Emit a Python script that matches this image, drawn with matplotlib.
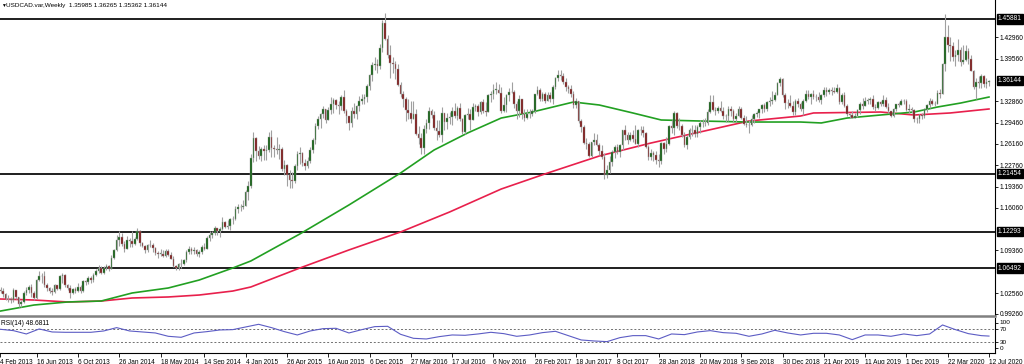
import numpy as np
import pandas as pd
import matplotlib
matplotlib.use("Agg")
import matplotlib.pyplot as plt
from matplotlib.transforms import blended_transform_factory

plt.rcParams['font.family'] = ['Liberation Sans', 'DejaVu Sans']

# USDCAD weekly bars, 10 Mar 2013 .. 12 Jul 2020
first_open = 1.0300
close_2013 = [1.0290, 1.0245, 1.0160, 1.0170, 1.0140, 1.0300, 1.0200, 1.0080, 1.0120, 1.0260,
              1.0300, 1.0350, 1.0250, 1.0180, 1.0470, 1.0520, 1.0530, 1.0390, 1.0340, 1.0290,
              1.0280, 1.0380, 1.0320, 1.0520, 1.0540, 1.0390, 1.0330, 1.0260, 1.0320, 1.0290,
              1.0350, 1.0290, 1.0440, 1.0430, 1.0490, 1.0470, 1.0550, 1.0610, 1.0660, 1.0580,
              1.0650, 1.0690, 1.0640]
high_2013 = [1.0350, 1.0340, 1.0260, 1.0230, 1.0190, 1.0340, 1.0300, 1.0200, 1.0140, 1.0290,
             1.0360, 1.0380, 1.0400, 1.0290, 1.0480, 1.0600, 1.0580, 1.0600, 1.0420, 1.0360,
             1.0330, 1.0400, 1.0390, 1.0550, 1.0580, 1.0560, 1.0400, 1.0380, 1.0340, 1.0360,
             1.0420, 1.0390, 1.0460, 1.0470, 1.0520, 1.0520, 1.0580, 1.0640, 1.0700, 1.0690,
             1.0680, 1.0720, 1.0700]
low_2013 = [1.0250, 1.0200, 1.0140, 1.0120, 1.0100, 1.0120, 1.0170, 1.0040, 1.0030, 1.0100,
            1.0230, 1.0260, 1.0200, 1.0140, 1.0160, 1.0450, 1.0420, 1.0350, 1.0290, 1.0250,
            1.0230, 1.0260, 1.0300, 1.0310, 1.0420, 1.0360, 1.0300, 1.0180, 1.0240, 1.0250,
            1.0280, 1.0260, 1.0280, 1.0380, 1.0400, 1.0410, 1.0430, 1.0520, 1.0580, 1.0560,
            1.0560, 1.0620, 1.0600]

close_2014 = [1.0810, 1.0940, 1.1100, 1.1140, 1.1040, 1.0960, 1.1090, 1.1080, 1.1040, 1.1110,
              1.1230, 1.1050, 1.1000, 1.0940, 1.1020, 1.1020, 1.0970, 1.0890, 1.0880, 1.0880,
              1.0840, 1.0920, 1.0860, 1.0800, 1.0690, 1.0650, 1.0720, 1.0720, 1.0780, 1.0900,
              1.0950, 1.0920, 1.0940, 1.0870, 1.0900, 1.0990, 1.0950, 1.1120, 1.1180, 1.1200,
              1.1280, 1.1230, 1.1270, 1.1380, 1.1300, 1.1320, 1.1430, 1.1420, 1.1590, 1.1610,
              1.1620, 1.1640]
high_2014 = [1.0860, 1.0960, 1.1170, 1.1230, 1.1200, 1.1080, 1.1160, 1.1120, 1.1230, 1.1150,
             1.1280, 1.1250, 1.1070, 1.1020, 1.1040, 1.1100, 1.1050, 1.0980, 1.0920, 1.0960,
             1.0930, 1.0960, 1.0960, 1.0900, 1.0850, 1.0700, 1.0730, 1.0800, 1.0800, 1.0930,
             1.1000, 1.0980, 1.0990, 1.0960, 1.0940, 1.1010, 1.1050, 1.1160, 1.1240, 1.1240,
             1.1320, 1.1290, 1.1300, 1.1460, 1.1400, 1.1410, 1.1440, 1.1470, 1.1640, 1.1670,
             1.1660, 1.1720]
low_2014 = [1.0630, 1.0800, 1.0920, 1.1000, 1.1000, 1.0900, 1.0950, 1.0980, 1.0990, 1.1010,
            1.1090, 1.1000, 1.0990, 1.0890, 1.0900, 1.0990, 1.0900, 1.0860, 1.0810, 1.0840,
            1.0820, 1.0830, 1.0840, 1.0790, 1.0670, 1.0620, 1.0620, 1.0660, 1.0700, 1.0740,
            1.0880, 1.0880, 1.0880, 1.0840, 1.0820, 1.0880, 1.0930, 1.0950, 1.1080, 1.1130,
            1.1170, 1.1180, 1.1140, 1.1260, 1.1280, 1.1270, 1.1250, 1.1350, 1.1410, 1.1520,
            1.1560, 1.1580]

close_2015 = [1.1850, 1.1950, 1.2390, 1.2700, 1.2500, 1.2430, 1.2530, 1.2500, 1.2520, 1.2720,
              1.2550, 1.2540, 1.2510, 1.2530, 1.2210, 1.2280, 1.2120, 1.2040, 1.2030, 1.2260,
              1.2460, 1.2470, 1.2310, 1.2270, 1.2340, 1.2510, 1.2680, 1.2900, 1.3010, 1.3080,
              1.3160, 1.2990, 1.3150, 1.3240, 1.3310, 1.3230, 1.3220, 1.3360, 1.3130, 1.3060,
              1.2950, 1.3140, 1.3080, 1.3210, 1.3300, 1.3330, 1.3360, 1.3530, 1.3710, 1.3860,
              1.3880, 1.3840]
high_2015 = [1.1890, 1.2020, 1.2450, 1.2800, 1.2730, 1.2580, 1.2560, 1.2600, 1.2590, 1.2800,
             1.2830, 1.2600, 1.2720, 1.2610, 1.2570, 1.2360, 1.2300, 1.2200, 1.2170, 1.2300,
             1.2500, 1.2560, 1.2480, 1.2380, 1.2400, 1.2560, 1.2700, 1.2950, 1.3050, 1.3100,
             1.3210, 1.3170, 1.3190, 1.3350, 1.3340, 1.3320, 1.3290, 1.3390, 1.3460, 1.3170,
             1.3060, 1.3190, 1.3260, 1.3230, 1.3370, 1.3400, 1.3410, 1.3560, 1.3720, 1.3910,
             1.3990, 1.3960]
low_2015 = [1.1640, 1.1730, 1.1920, 1.2330, 1.2350, 1.2370, 1.2350, 1.2360, 1.2360, 1.2480,
            1.2400, 1.2410, 1.2460, 1.2380, 1.2180, 1.2130, 1.1950, 1.1920, 1.1920, 1.1990,
            1.2200, 1.2300, 1.2270, 1.2200, 1.2230, 1.2320, 1.2470, 1.2620, 1.2850, 1.2870,
            1.3020, 1.2950, 1.2990, 1.3080, 1.3100, 1.3160, 1.3090, 1.3150, 1.3100, 1.2950,
            1.2830, 1.2880, 1.3030, 1.3000, 1.3140, 1.3240, 1.3250, 1.3270, 1.3460, 1.3610,
            1.3780, 1.3730]

close_2016 = [1.4130, 1.4520, 1.4270, 1.4020, 1.3900, 1.3880, 1.3800, 1.3540, 1.3400, 1.3330,
              1.3150, 1.3100, 1.3000, 1.3090, 1.2770, 1.2700, 1.2550, 1.2850, 1.2950, 1.3130,
              1.3070, 1.2860, 1.2820, 1.2750, 1.3100, 1.2960, 1.3030, 1.3040, 1.3130, 1.3060,
              1.3180, 1.3000, 1.2800, 1.3070, 1.3090, 1.2990, 1.3200, 1.3220, 1.3120, 1.3280,
              1.3140, 1.3120, 1.3390, 1.3410, 1.3470, 1.3470, 1.3420, 1.3130, 1.3230, 1.3380,
              1.3440, 1.3430]
high_2016 = [1.4190, 1.4570, 1.4690, 1.4330, 1.4170, 1.3990, 1.3920, 1.3880, 1.3590, 1.3450,
             1.3360, 1.3320, 1.3300, 1.3290, 1.3170, 1.2900, 1.2780, 1.2910, 1.3010, 1.3190,
             1.3170, 1.3140, 1.2990, 1.2990, 1.3190, 1.3110, 1.3100, 1.3120, 1.3190, 1.3260,
             1.3220, 1.3260, 1.3020, 1.3090, 1.3180, 1.3160, 1.3260, 1.3250, 1.3250, 1.3300,
             1.3330, 1.3280, 1.3400, 1.3450, 1.3560, 1.3590, 1.3560, 1.3510, 1.3350, 1.3400,
             1.3490, 1.3600]
low_2016 = [1.3800, 1.4060, 1.4250, 1.3970, 1.3660, 1.3740, 1.3640, 1.3530, 1.3350, 1.3190,
            1.2980, 1.3010, 1.2950, 1.3000, 1.2760, 1.2620, 1.2460, 1.2460, 1.2780, 1.2850,
            1.3030, 1.2840, 1.2680, 1.2720, 1.2650, 1.2830, 1.2850, 1.2930, 1.2910, 1.3030,
            1.2990, 1.2980, 1.2770, 1.2770, 1.3010, 1.2830, 1.2990, 1.3140, 1.3050, 1.3090,
            1.3100, 1.3060, 1.3120, 1.3280, 1.3330, 1.3400, 1.3420, 1.3110, 1.3120, 1.3120,
            1.3300, 1.3420]

close_2017 = [1.3250, 1.3130, 1.3320, 1.3090, 1.3030, 1.3080, 1.3090, 1.3130, 1.3400, 1.3460,
              1.3330, 1.3400, 1.3300, 1.3380, 1.3320, 1.3520, 1.3650, 1.3700, 1.3690, 1.3590,
              1.3510, 1.3480, 1.3400, 1.3230, 1.3290, 1.2970, 1.2880, 1.2630, 1.2610, 1.2420,
              1.2640, 1.2670, 1.2600, 1.2500, 1.2400, 1.2130, 1.2200, 1.2330, 1.2480, 1.2560,
              1.2480, 1.2590, 1.2830, 1.2760, 1.2670, 1.2760, 1.2690, 1.2620, 1.2830, 1.2830,
              1.2780, 1.2570, 1.2410]
high_2017 = [1.3460, 1.3290, 1.3390, 1.3320, 1.3170, 1.3170, 1.3160, 1.3160, 1.3410, 1.3530,
             1.3500, 1.3430, 1.3440, 1.3440, 1.3430, 1.3540, 1.3670, 1.3790, 1.3790, 1.3730,
             1.3650, 1.3550, 1.3540, 1.3450, 1.3340, 1.3300, 1.3010, 1.2910, 1.2710, 1.2650,
             1.2640, 1.2780, 1.2770, 1.2630, 1.2600, 1.2470, 1.2280, 1.2420, 1.2510, 1.2600,
             1.2610, 1.2620, 1.2840, 1.2920, 1.2800, 1.2800, 1.2830, 1.2920, 1.2850, 1.2900,
             1.2890, 1.2810, 1.2590]
low_2017 = [1.3180, 1.3000, 1.3040, 1.3010, 1.2970, 1.3000, 1.3030, 1.3050, 1.3100, 1.3380,
            1.3300, 1.3300, 1.3260, 1.3300, 1.3270, 1.3250, 1.3480, 1.3610, 1.3620, 1.3560,
            1.3450, 1.3420, 1.3350, 1.3180, 1.3180, 1.2950, 1.2810, 1.2620, 1.2530, 1.2410,
            1.2410, 1.2600, 1.2580, 1.2440, 1.2370, 1.2060, 1.2070, 1.2150, 1.2270, 1.2390,
            1.2450, 1.2410, 1.2520, 1.2670, 1.2620, 1.2660, 1.2650, 1.2610, 1.2560, 1.2750,
            1.2730, 1.2550, 1.2360]

close_2018 = [1.2470, 1.2440, 1.2360, 1.2350, 1.2630, 1.2540, 1.2620, 1.2890, 1.2870, 1.3100,
              1.2890, 1.2890, 1.2750, 1.2600, 1.2730, 1.2840, 1.2830, 1.2770, 1.2880, 1.2940,
              1.2950, 1.2940, 1.3120, 1.3270, 1.3150, 1.3130, 1.3180, 1.3140, 1.3050, 1.3060,
              1.3170, 1.3140, 1.3000, 1.3060, 1.3170, 1.3030, 1.2930, 1.2920, 1.2910, 1.3000,
              1.3090, 1.3100, 1.3160, 1.3230, 1.3160, 1.3280, 1.3300, 1.3310, 1.3390, 1.3570,
              1.3640, 1.3390]
high_2018 = [1.2530, 1.2500, 1.2500, 1.2450, 1.2640, 1.2650, 1.2730, 1.2920, 1.2990, 1.3130,
             1.3120, 1.3020, 1.2930, 1.2810, 1.2750, 1.2870, 1.2910, 1.2920, 1.2920, 1.2990,
             1.3000, 1.3020, 1.3170, 1.3380, 1.3380, 1.3190, 1.3220, 1.3290, 1.3190, 1.3090,
             1.3210, 1.3210, 1.3160, 1.3100, 1.3220, 1.3190, 1.3070, 1.3050, 1.2990, 1.3070,
             1.3110, 1.3140, 1.3170, 1.3250, 1.3260, 1.3290, 1.3360, 1.3450, 1.3440, 1.3600,
             1.3670, 1.3660]
low_2018 = [1.2360, 1.2350, 1.2290, 1.2250, 1.2300, 1.2450, 1.2490, 1.2600, 1.2790, 1.2760,
            1.2860, 1.2840, 1.2730, 1.2570, 1.2530, 1.2690, 1.2740, 1.2730, 1.2730, 1.2780,
            1.2880, 1.2900, 1.2920, 1.3110, 1.3130, 1.3070, 1.3100, 1.3120, 1.3010, 1.2960,
            1.2980, 1.3050, 1.2960, 1.2960, 1.3050, 1.3000, 1.2920, 1.2880, 1.2780, 1.2900,
            1.2940, 1.3040, 1.3030, 1.3100, 1.3120, 1.3130, 1.3220, 1.3250, 1.3290, 1.3380,
            1.3530, 1.3360]

close_2019 = [1.3260, 1.3260, 1.3210, 1.3120, 1.3300, 1.3240, 1.3170, 1.3290, 1.3410, 1.3350,
              1.3400, 1.3350, 1.3360, 1.3310, 1.3390, 1.3470, 1.3430, 1.3460, 1.3450, 1.3440,
              1.3500, 1.3270, 1.3390, 1.3220, 1.3090, 1.3070, 1.3030, 1.3060, 1.3150, 1.3240,
              1.3220, 1.3300, 1.3310, 1.3320, 1.3200, 1.3180, 1.3280, 1.3240, 1.3310, 1.3200,
              1.3130, 1.3050, 1.3170, 1.3240, 1.3230, 1.3290, 1.3290, 1.3150, 1.3170, 1.3150,
              1.3000, 1.3000]
high_2019 = [1.3420, 1.3320, 1.3380, 1.3290, 1.3320, 1.3340, 1.3270, 1.3320, 1.3470, 1.3460,
             1.3420, 1.3460, 1.3410, 1.3430, 1.3410, 1.3520, 1.3520, 1.3500, 1.3520, 1.3520,
             1.3560, 1.3510, 1.3420, 1.3440, 1.3240, 1.3110, 1.3130, 1.3110, 1.3170, 1.3270,
             1.3340, 1.3350, 1.3340, 1.3350, 1.3380, 1.3240, 1.3300, 1.3290, 1.3380, 1.3350,
             1.3260, 1.3140, 1.3180, 1.3250, 1.3270, 1.3330, 1.3330, 1.3330, 1.3250, 1.3200,
             1.3170, 1.3040]
low_2019 = [1.3170, 1.3180, 1.3200, 1.3070, 1.3070, 1.3200, 1.3140, 1.3070, 1.3280, 1.3320,
            1.3250, 1.3320, 1.3300, 1.3280, 1.3250, 1.3360, 1.3370, 1.3410, 1.3390, 1.3420,
            1.3420, 1.3250, 1.3250, 1.3200, 1.3060, 1.3020, 1.3020, 1.3020, 1.3040, 1.3080,
            1.3170, 1.3210, 1.3250, 1.3250, 1.3160, 1.3130, 1.3160, 1.3210, 1.3220, 1.3180,
            1.3110, 1.3040, 1.3040, 1.3130, 1.3200, 1.3230, 1.3240, 1.3140, 1.3100, 1.3110,
            1.2960, 1.2950]

close_2020 = [1.3070, 1.3060, 1.3170, 1.3230, 1.3300, 1.3250, 1.3240, 1.3420, 1.3410, 1.3870,
              1.4300, 1.4180, 1.4160, 1.3990, 1.4020, 1.4100, 1.3910, 1.3940, 1.4090, 1.3950,
              1.3770, 1.3520, 1.3590, 1.3570, 1.3690, 1.3560, 1.3598, 1.36144]
high_2020 = [1.3090, 1.3100, 1.3180, 1.3240, 1.3340, 1.3320, 1.3290, 1.3460, 1.3480, 1.3890,
             1.4670, 1.4500, 1.4300, 1.4220, 1.4100, 1.4270, 1.4150, 1.4170, 1.4170, 1.4130,
             1.4020, 1.3790, 1.3650, 1.3690, 1.3720, 1.3710, 1.3650, 1.36265]
low_2020 = [1.2950, 1.3010, 1.3030, 1.3120, 1.3180, 1.3230, 1.3220, 1.3240, 1.3340, 1.3460,
            1.3760, 1.4060, 1.3930, 1.3920, 1.3850, 1.3930, 1.3850, 1.3880, 1.3930, 1.3870,
            1.3760, 1.3480, 1.3320, 1.3490, 1.3500, 1.3510, 1.3500, 1.35362]

# moving averages (bar index, price)
green_idx = [0, 13, 26, 39, 51, 65, 77, 90, 97, 116, 135, 155, 168, 181, 194, 206, 222,
             232, 245, 256, 271, 290, 310, 318, 328, 341, 354, 363, 372, 383]
green_val = [0.9973, 1.0068, 1.0116, 1.0131, 1.0258, 1.0337, 1.0463, 1.0653, 1.0764, 1.1191,
             1.1649, 1.2154, 1.2518, 1.2787, 1.3023, 1.3118, 1.3276, 1.3229, 1.3103, 1.2992,
             1.2976, 1.2960, 1.2960, 1.2945, 1.3023, 1.3071, 1.3118, 1.3197, 1.3260, 1.3355]
red_idx = [0, 13, 26, 39, 51, 65, 77, 90, 97, 116, 135, 155, 174, 194, 212, 232, 252, 271,
           290, 310, 315, 341, 354, 368, 383]
red_val = [1.0163, 1.0147, 1.0116, 1.0131, 1.0179, 1.0195, 1.0226, 1.0289, 1.0353, 1.0653,
           1.0938, 1.1222, 1.1538, 1.1901, 1.2154, 1.2423, 1.2628, 1.2802, 1.2976, 1.3055,
           1.3103, 1.3118, 1.3071, 1.3103, 1.3166]

# RSI(14) read every 5 bars
rsi_idx = list(range(0, 381, 5)) + [383]
rsi_vals = [69, 65, 55, 70, 61, 60, 60, 60, 64, 74, 64, 61, 58, 48, 45, 58, 62, 67, 68, 76,
            84, 74, 62, 52, 64, 71, 72, 58, 68, 77, 78, 54, 42, 40, 47, 52, 51, 55, 60, 56,
            48, 52, 59, 63, 50, 37, 34, 32, 44, 50, 50, 40, 55, 53, 61, 65, 59, 57, 48, 55,
            66, 58, 52, 57, 57, 52, 38, 52, 52, 48, 55, 50, 55, 82, 68, 56, 50, 48.6811]

levels = [1.45881, 1.21454, 1.12293, 1.06492]
last_price = 1.36144
price_ticks = [1.42960, 1.39560, 1.32860, 1.29460, 1.26160, 1.22760, 1.19360,
               1.16060, 1.09360, 1.02560, 0.99260]
date_labels = ['16 Jun 2013', '6 Oct 2013', '26 Jan 2014', '18 May 2014', '14 Sep 2014',
               '4 Jan 2015', '26 Apr 2015', '16 Aug 2015', '6 Dec 2015', '27 Mar 2016',
               '17 Jul 2016', '6 Nov 2016', '26 Feb 2017', '18 Jun 2017', '8 Oct 2017',
               '28 Jan 2018', '20 May 2018', '9 Sep 2018', '30 Dec 2018', '21 Apr 2019',
               '11 Aug 2019', '1 Dec 2019', '22 Mar 2020', '12 Jul 2020']

closes = np.array(close_2013 + close_2014 + close_2015 + close_2016 + close_2017 + close_2018 + close_2019 + close_2020)
highs = np.array(high_2013 + high_2014 + high_2015 + high_2016 + high_2017 + high_2018 + high_2019 + high_2020)
lows = np.array(low_2013 + low_2014 + low_2015 + low_2016 + low_2017 + low_2018 + low_2019 + low_2020)
opens = np.r_[first_open, closes[:-1]]
highs = np.maximum(highs, np.maximum(opens, closes))
lows = np.minimum(lows, np.minimum(opens, closes))
n = len(closes)
idx = np.arange(n)
dates = pd.date_range('2013-03-10', periods=n, freq='7D')

W, H = 1024, 364
fig = plt.figure(figsize=(W / 100, H / 100), dpi=100)
fig.patch.set_facecolor('white')

def px_axes(x0, y0, x1, y1):
    return fig.add_axes([x0 / W, 1 - y1 / H, (x1 - x0) / W, (y1 - y0) / H])

step = (989 - 0.5) / (n - 1)
xl = (-0.5 / step, (995 - 0.5) / step)

# main price window
ax = px_axes(0, 0, 995, 316)
k = (1.45881 - 0.99260) / (314 - 19)
ax.set_ylim(0.99260 - 2 * k, 1.45881 + 19 * k)
ax.set_xlim(*xl)

for lv in levels:
    ax.axhline(lv, color='#1e1e1e', lw=1.4, zorder=1)

ax.plot(red_idx, red_val, color='#e8204c', lw=1.2, zorder=2)
ax.plot(green_idx, green_val, color='#22a022', lw=1.2, zorder=2)

up = closes >= opens
body_lo = np.minimum(opens, closes)
body_h = np.maximum(np.abs(closes - opens), 0.0004)
ax.vlines(idx, lows, highs, color='#a0a0a0', lw=0.8, zorder=3)
ax.bar(idx[up], body_h[up], bottom=body_lo[up], width=0.62, color='#0c5c0c',
       edgecolor='#a0a0a0', linewidth=0.3, zorder=4)
ax.bar(idx[~up], body_h[~up], bottom=body_lo[~up], width=0.62, color='#7c1212',
       edgecolor='#a0a0a0', linewidth=0.3, zorder=4)

ax.yaxis.tick_right()
ax.set_yticks(price_ticks)
ax.set_yticklabels([f'{v:.5f}' for v in price_ticks])
ax.tick_params(axis='y', length=2.5, width=0.6, labelsize=4.8, pad=1, colors='black')
ax.set_xticks([])
for s in ['left', 'top']:
    ax.spines[s].set_visible(False)
ax.spines['right'].set_linewidth(0.8)
ax.spines['bottom'].set_color('#808080')
ax.spines['bottom'].set_linewidth(1.8)

tr = blended_transform_factory(ax.transAxes, ax.transData)
for lv in levels + [last_price]:
    ax.text(1.0 + 3 / 995, lv, f'{lv:.5f}', transform=tr, ha='left', va='center',
            fontsize=4.8, color='white', zorder=10, clip_on=False,
            bbox=dict(boxstyle='square,pad=0.2', fc='black', ec='black'))

fig.text(1 / W, 1 - 5.5 / H, '\u25bc', fontsize=3.5, va='center', ha='left')
fig.text(6 / W, 1 - 5.5 / H, 'USDCAD.var,Weekly  1.35985 1.36265 1.35362 1.36144',
         fontsize=4.6, va='center', ha='left')

# RSI window
ar = px_axes(0, 318, 995, 353)
ar.set_xlim(*xl)
ar.set_ylim(30 - (353 - 342.3) * 3, 30 + (342.3 - 318) * 3)
ar.axhline(70, color='#707070', lw=0.7, ls=(0, (2, 2)))
ar.axhline(30, color='#707070', lw=0.7, ls=(0, (2, 2)))
ar.plot(rsi_idx, rsi_vals, color='#5c5cc4', lw=0.8)
ar.yaxis.tick_right()
ar.set_yticks([30 + (342.3 - 322.5) * 3, 70, 30, 30 + (342.3 - 348) * 3])
ar.set_yticklabels(['100', '70', '30', '0'])
ar.tick_params(axis='y', length=2.5, width=0.6, labelsize=4.6, pad=1)
ar.text(2 / 995, 30 + (342.3 - 323.5) * 3, 'RSI(14) 48.6811', fontsize=4.8,
        ha='left', va='center')

pos = [xl[0]] + [int(np.searchsorted(dates, pd.Timestamp(d))) for d in date_labels]
ar.set_xticks(pos)
ar.set_xticklabels(['4 Feb 2013'] + date_labels)
ar.tick_params(axis='x', length=3, width=0.6, labelsize=4.7, pad=1)
for lab in ar.get_xticklabels():
    lab.set_horizontalalignment('left')
for s in ['left', 'top']:
    ar.spines[s].set_visible(False)
ar.spines['right'].set_linewidth(0.8)
ar.spines['bottom'].set_linewidth(0.8)

fig.savefig('out.png', dpi=100)
